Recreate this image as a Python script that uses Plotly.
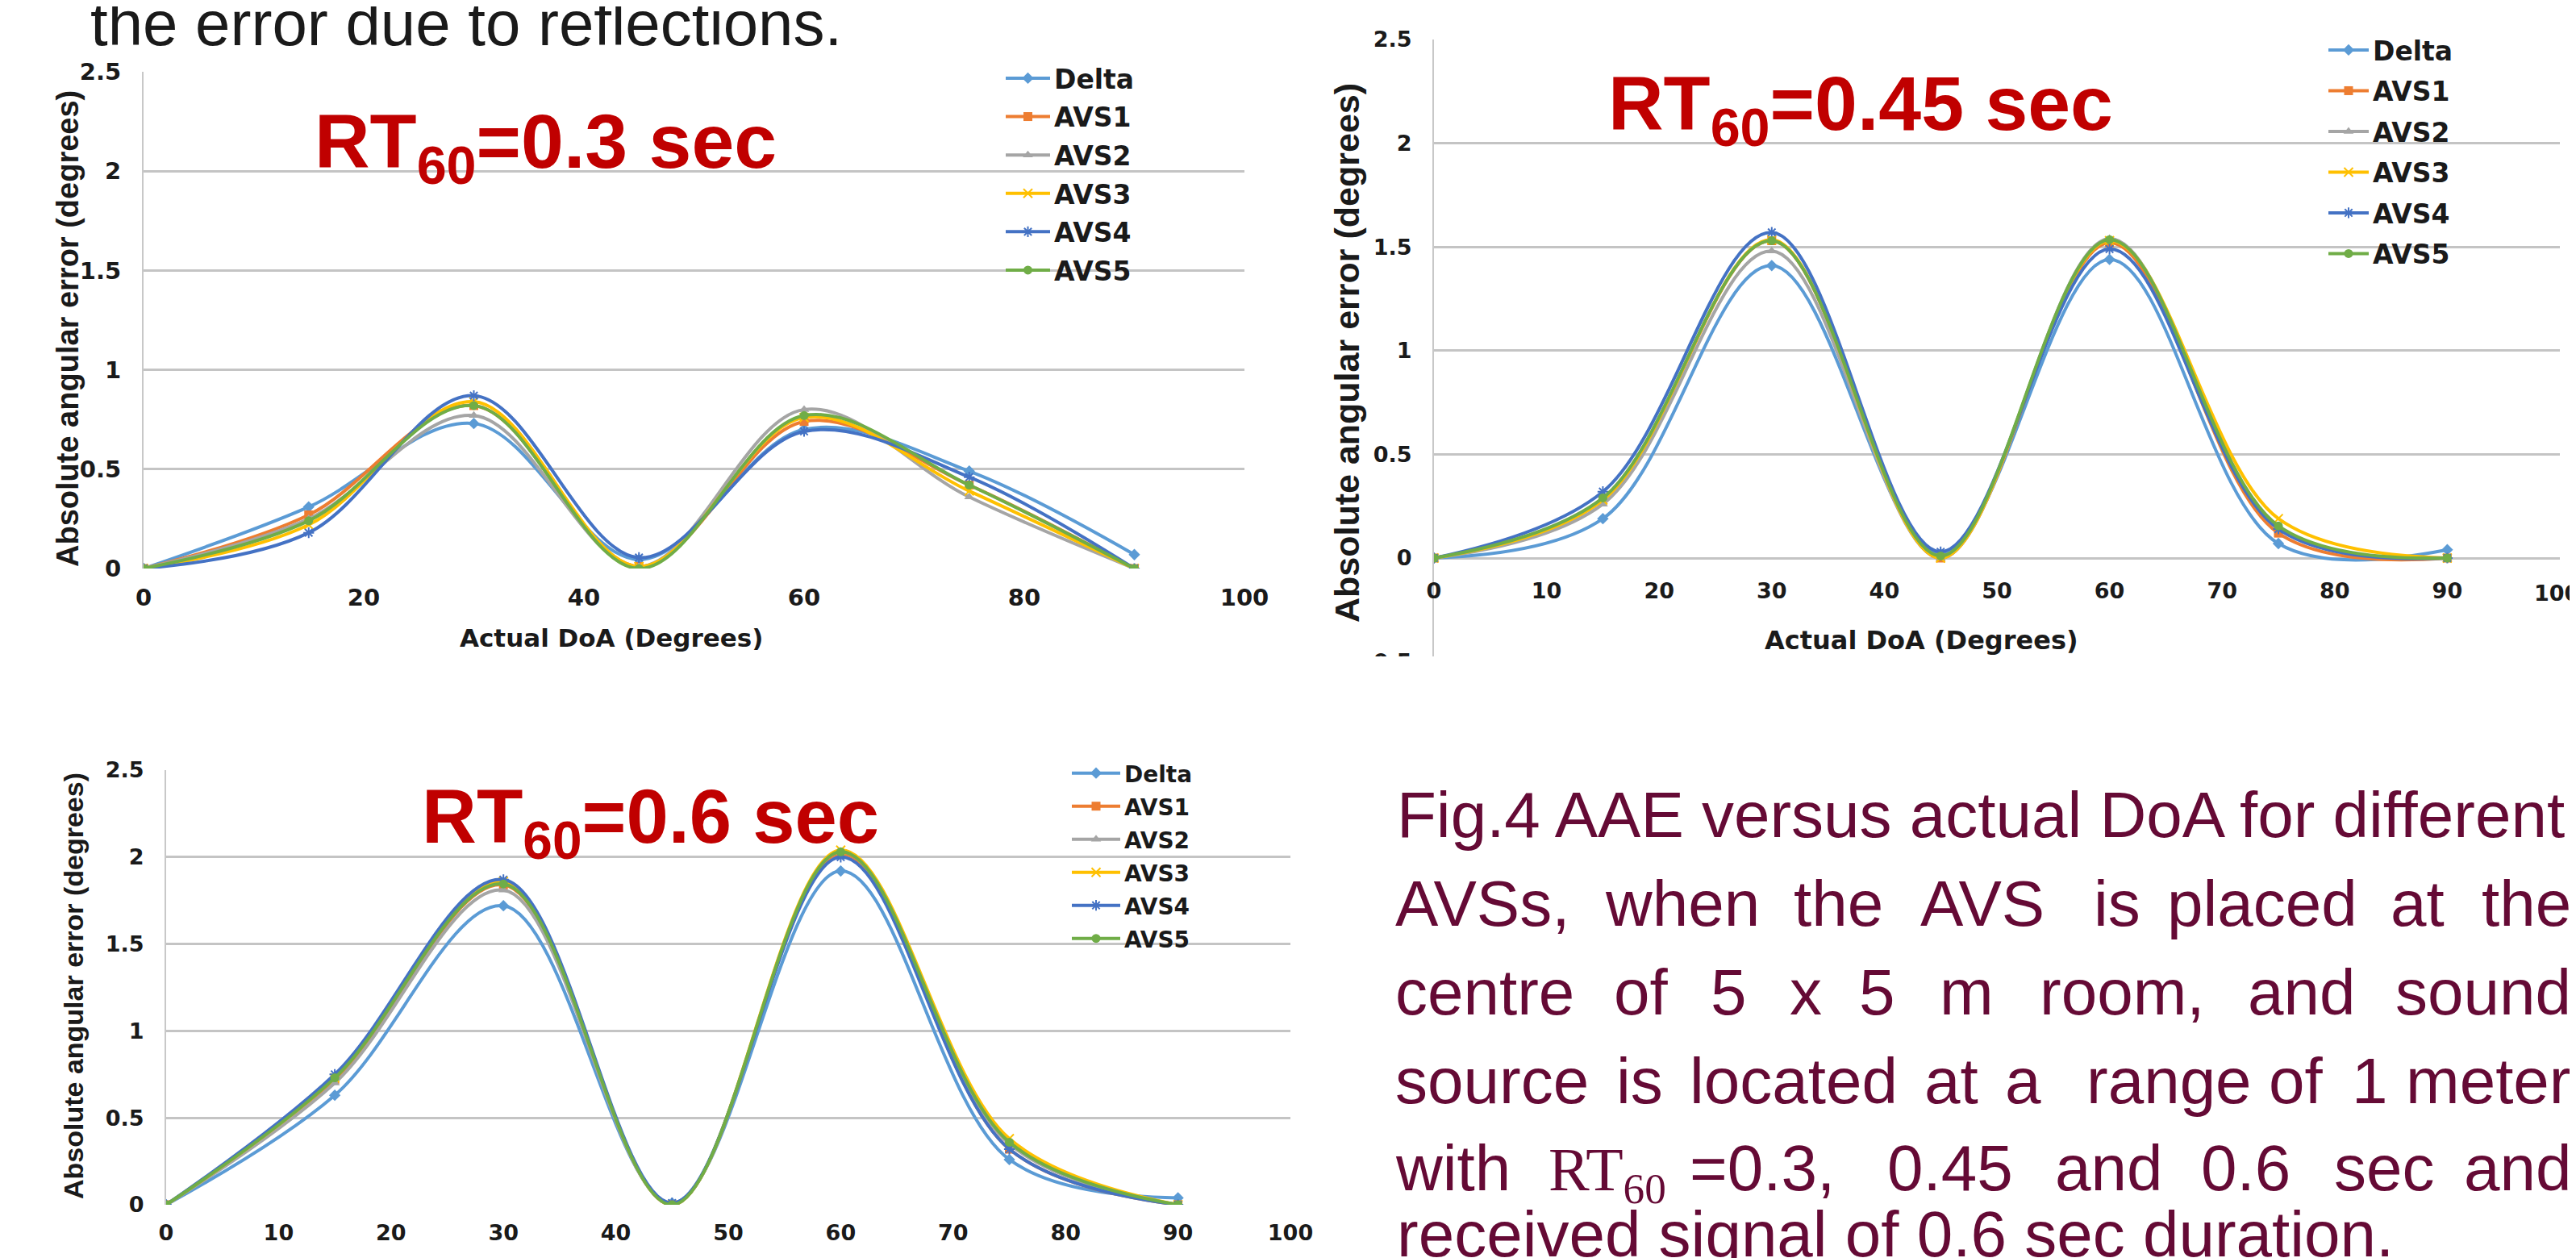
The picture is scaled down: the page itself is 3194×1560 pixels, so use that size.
import plotly.graph_objects as go

W, H = 3194, 1560

# ---------------- data ----------------
doa = [0, 15, 30, 45, 60, 75, 90]
series_names = ["Delta", "AVS1", "AVS2", "AVS3", "AVS4", "AVS5"]

# RT60 = 0.3 sec
rt030_delta = [0, 0.31, 0.73, 0.045, 0.70, 0.49, 0.07]
rt030_avs1 = [0, 0.27, 0.82, 0.01, 0.74, 0.42, 0.0]
rt030_avs2 = [0, 0.25, 0.77, 0.01, 0.80, 0.36, 0.0]
rt030_avs3 = [0, 0.22, 0.84, 0.01, 0.76, 0.39, 0.0]
rt030_avs4 = [0, 0.18, 0.87, 0.055, 0.69, 0.46, 0.0]
rt030_avs5 = [0, 0.24, 0.82, 0.0, 0.77, 0.42, 0.0]

# RT60 = 0.45 sec
rt045_delta = [0, 0.19, 1.41, 0.02, 1.44, 0.07, 0.04]
rt045_avs1 = [0, 0.28, 1.53, 0.0, 1.52, 0.12, 0.0]
rt045_avs2 = [0, 0.26, 1.48, 0.0, 1.54, 0.15, 0.0]
rt045_avs3 = [0, 0.28, 1.535, 0.0, 1.53, 0.19, 0.0]
rt045_avs4 = [0, 0.32, 1.57, 0.03, 1.49, 0.14, 0.0]
rt045_avs5 = [0, 0.29, 1.53, 0.01, 1.535, 0.155, 0.0]

# RT60 = 0.6 sec
rt060_delta = [0, 0.63, 1.72, 0.01, 1.92, 0.26, 0.04]
rt060_avs1 = [0, 0.72, 1.84, 0.0, 2.02, 0.32, 0.0]
rt060_avs2 = [0, 0.70, 1.81, 0.0, 2.03, 0.35, 0.0]
rt060_avs3 = [0, 0.73, 1.86, 0.0, 2.04, 0.38, 0.0]
rt060_avs4 = [0, 0.75, 1.87, 0.01, 2.00, 0.32, 0.0]
rt060_avs5 = [0, 0.73, 1.845, 0.0, 2.03, 0.36, 0.0]

rt030 = [rt030_delta, rt030_avs1, rt030_avs2, rt030_avs3, rt030_avs4, rt030_avs5]
rt045 = [rt045_delta, rt045_avs1, rt045_avs2, rt045_avs3, rt045_avs4, rt045_avs5]
rt060 = [rt060_delta, rt060_avs1, rt060_avs2, rt060_avs3, rt060_avs4, rt060_avs5]

x_ticks_20 = [0, 20, 40, 60, 80, 100]
x_ticks_10 = [0, 10, 20, 30, 40, 50, 60, 70, 80, 90, 100]
y_ticks = [0, 0.5, 1, 1.5, 2, 2.5]
y_ticks_neg = [-0.5, 0, 0.5, 1, 1.5, 2, 2.5]

x_title = "Actual DoA (Degrees)"
y_title = "Absolute angular error (degrees)"

# ---------------- styles ----------------
colors = {"Delta": "#5B9BD5", "AVS1": "#ED7D31", "AVS2": "#A5A5A5",
          "AVS3": "#FFC000", "AVS4": "#4472C4", "AVS5": "#70AD47"}
symbols = {"Delta": "diamond", "AVS1": "square", "AVS2": "triangle-up",
           "AVS3": "x-thin-open", "AVS4": "asterisk-open", "AVS5": "circle"}

TICK_FONT = "DejaVu Sans"
GRID = "#C4C4C4"
TXT = "#1a1a1a"


def px_x(p):
    return p / W


def px_y(p):
    return 1 - p / H


fig = go.Figure()

charts = [
    dict(data=rt030, sx="", leg="legend", x0=170, x1=1535, ytop=81, ybot=697,
         yr=[0, 2.5], yt=y_ticks, xt=x_ticks_20, tick=29, legfs=33, leggap=1.7,
         legx=1234, legy=61, itemw=55),
    dict(data=rt045, sx="2", leg="legend2", x0=1770, x1=3166, ytop=41, ybot=812.6,
         yr=[-0.5, 2.5], yt=y_ticks_neg, xt=x_ticks_10, tick=27, legfs=33, leggap=4.6,
         legx=2874, legy=26, itemw=50),
    dict(data=rt060, sx="3", leg="legend3", x0=198, x1=1592, ytop=947, ybot=1486,
         yr=[0, 2.5], yt=y_ticks, xt=x_ticks_10, tick=27, legfs=28, leggap=1.6,
         legx=1316, legy=926, itemw=60),
]

for ci, c in enumerate(charts):
    for name, vals in zip(series_names, c["data"]):
        col = colors[name]
        sym = symbols[name]
        fig.add_trace(go.Scatter(
            x=doa, y=vals, name=name, mode="lines+markers",
            xaxis="x" + c["sx"], yaxis="y" + c["sx"],
            legend=c["leg"], legendgroup=f"c{ci}_{name}",
            line=dict(color=col, width=4, shape="spline", smoothing=1.0),
            marker=dict(symbol=sym, size=11, color=col,
                        line=dict(color=col, width=2 if "open" in sym else 0)),
        ))

layout = dict(
    width=W, height=H, margin=dict(l=0, r=0, t=0, b=0, pad=0, autoexpand=False),
    paper_bgcolor="white", plot_bgcolor="white", showlegend=True,
)

ann = []

for ci, c in enumerate(charts):
    sx = c["sx"]
    xa = dict(domain=[px_x(c["x0"]), px_x(c["x1"])], range=[0, 100],
              tickvals=c["xt"], showgrid=False, zeroline=False,
              showline=False, ticks="", automargin=False, ticklabeloverflow="allow",
              tickfont=dict(family=TICK_FONT, size=c["tick"], color=TXT, weight="bold"),
              anchor="y" + sx, fixedrange=True)
    ya = dict(domain=[px_y(c["ybot"]), px_y(c["ytop"])], range=c["yr"],
              tickvals=c["yt"], showgrid=True, gridcolor=GRID, gridwidth=2.5,
              zeroline=False, showline=True, linecolor="#C8C8C8", linewidth=2,
              ticks="", ticklabelstandoff=20, automargin=False,
              tickfont=dict(family=TICK_FONT, size=c["tick"], color=TXT, weight="bold"),
              anchor="x" + sx, fixedrange=True)
    if sx == "2":
        xa["anchor"] = "free"
        xa["position"] = px_y(684)
        xa["ticklabelstandoff"] = 22
        # last label kept inside the slide edge (as in the original): drawn as text
        xa["ticktext"] = [str(v) for v in c["xt"][:-1]] + [""]
        ann.append(dict(text=str(c["xt"][-1]), x=px_x(3192), y=px_y(727),
                        xref="paper", yref="paper", xanchor="right", yanchor="middle",
                        showarrow=False,
                        font=dict(family=TICK_FONT, size=c["tick"], color=TXT, weight="bold")))
    else:
        xa["ticklabelstandoff"] = 16
    layout["xaxis" + sx] = xa
    layout["yaxis" + sx] = ya
    layout[c["leg"]] = dict(
        x=px_x(c["legx"]), y=px_y(c["legy"]), xanchor="left", yanchor="top",
        bgcolor="rgba(0,0,0,0)", borderwidth=0, itemwidth=c["itemw"],
        tracegroupgap=c["leggap"],
        font=dict(family=TICK_FONT, size=c["legfs"], color=TXT, weight="bold"),
    )

fig.update_layout(**layout)

# axis titles
x_title_pos = [(750, 783, 31), (2374, 786, 32), (795, 1568, 31)]
y_title_pos = [(76, 400, 38), (1662, 430, 43), (83, 1215, 34)]
for (cx, cy, fs) in x_title_pos:
    ann.append(dict(text=x_title, x=px_x(cx), y=px_y(cy), xref="paper", yref="paper",
                    xanchor="center", yanchor="middle", showarrow=False,
                    font=dict(family=TICK_FONT, size=fs, color=TXT, weight="bold")))
for (cx, cy, fs) in y_title_pos:
    ann.append(dict(text=y_title, x=px_x(cx), y=px_y(cy), xref="paper", yref="paper",
                    xanchor="center", yanchor="middle", showarrow=False, textangle=-90,
                    font=dict(family="Liberation Sans", size=fs, color=TXT, weight="bold")))

# RT60 labels
rt_labels = ["RT<sub>60</sub>=0.3 sec", "RT<sub>60</sub>=0.45 sec", "RT<sub>60</sub>=0.6 sec"]
rt_pos = [(380, 200, 95), (1984, 153, 95), (513, 1037, 94)]
for lab, (lx, base, fs) in zip(rt_labels, rt_pos):
    ann.append(dict(text=lab, x=px_x(lx), y=px_y(base - 0.905 * fs - 2), xref="paper",
                    yref="paper", xanchor="left", yanchor="top", showarrow=False,
                    font=dict(family="Liberation Sans", size=fs, color="#C00000", weight="bold")))

# top (cropped) slide text
TOP_FS = 78
ann.append(dict(text="the error due to reflections.", x=px_x(102), y=px_y(48 - 0.905 * TOP_FS - 2),
                xref="paper", yref="paper", xanchor="left", yanchor="top", showarrow=False,
                font=dict(family="Liberation Sans", size=TOP_FS, color="#1a1a1a")))

# caption
CAP = "#650A35"
CFS = 80
cap_lines = [
    ["Fig.4 AAE versus actual DoA for different"],
    ["AVSs,", "when", "the", "AVS", "is", "placed", "at", "the"],
    ["centre", "of", "5", "x", "5", "m", "room,", "and", "sound"],
    ["source", "is", "located", "at", "a", "range", "of", "1", "meter"],
    ["with", "RT<sub>60</sub>", "=0.3,", "0.45", "and", "0.6", "sec", "and"],
    ["received signal of 0.6 sec duration."],
]
cap_word_x = [
    [1722],
    [1720, 1980, 2214, 2371, 2586, 2677, 2954, None],
    [1720, 1991, 2111, 2209, 2295, 2395, 2519, 2777, None],
    [1720, 1994, 2085, 2376, 2476, 2577, 2803, 2906, None],
    [1720, 1910, 2085, 2330, 2538, 2719, 2884, None],
    [1722],
]
cap_base = [1030, 1140, 1250, 1360, 1468, 1550]
for words, xs, base in zip(cap_lines, cap_word_x, cap_base):
    for w, wx in zip(words, xs):
        serif = w.startswith("RT")
        fs = 76 if serif else CFS
        fam = "Liberation Serif" if serif else "Liberation Sans"
        asc = 0.891 if serif else 0.905
        if wx is None:
            xx, xa_ = px_x(3182), "right"
        else:
            xx, xa_ = px_x(wx), "left"
        ann.append(dict(text=w, x=xx, y=px_y(base - asc * fs - 2), xref="paper", yref="paper",
                        xanchor=xa_, yanchor="top", showarrow=False,
                        font=dict(family=fam, size=fs, color=CAP)))

fig.update_layout(annotations=ann)

# crop of the second chart at its bottom edge (as in the slide)
fig.add_shape(type="rect", xref="paper", yref="paper",
              x0=px_x(1600), x1=1.0, y0=px_y(900), y1=px_y(806),
              fillcolor="white", line=dict(width=0), layer="above")

fig.write_html("out.html")
